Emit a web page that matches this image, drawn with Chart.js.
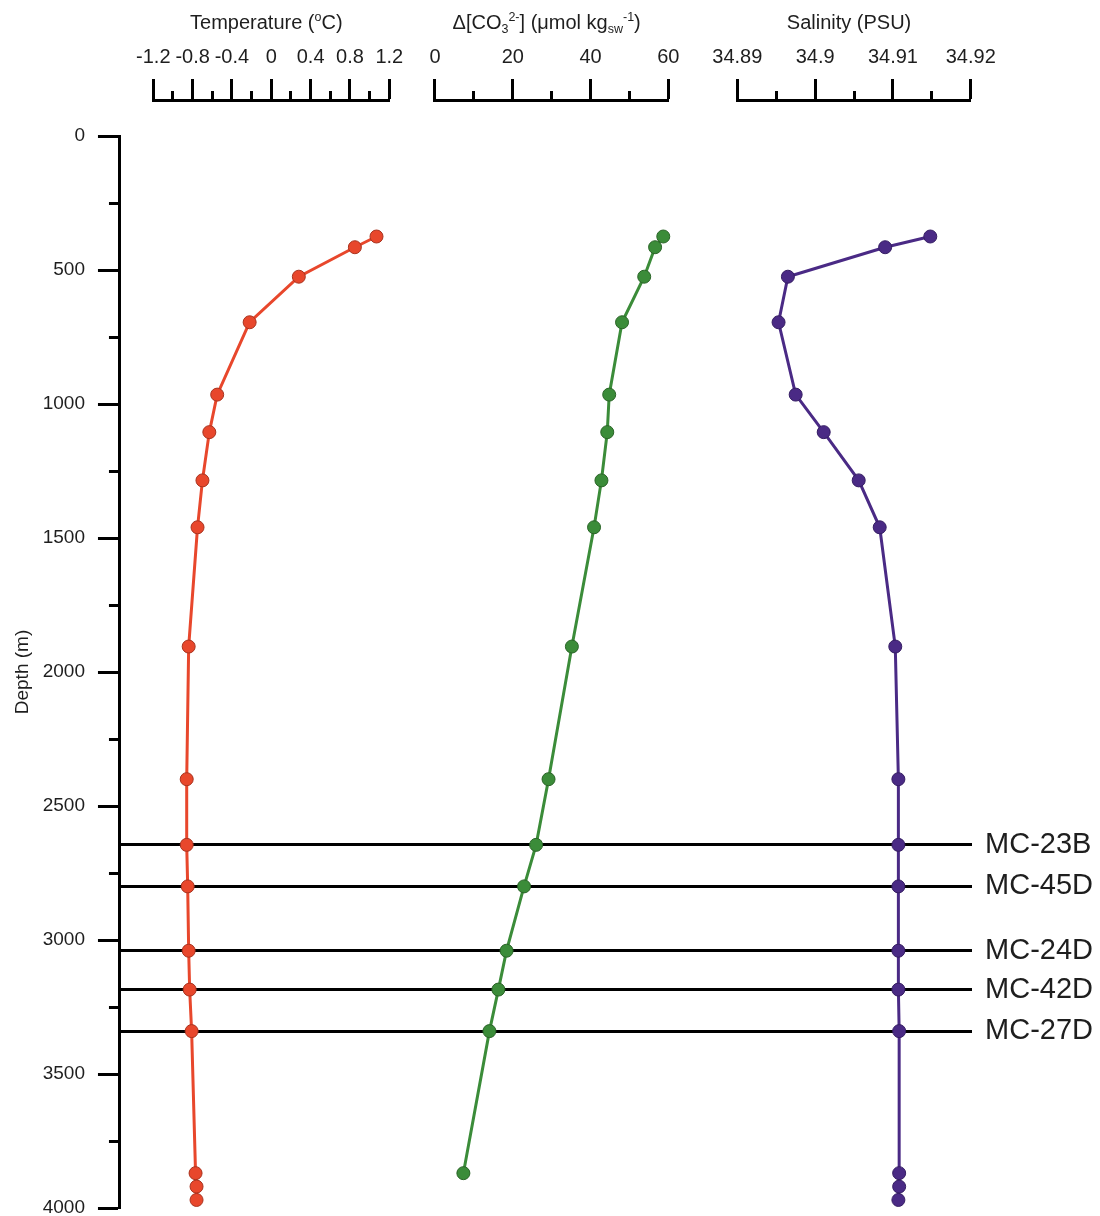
<!DOCTYPE html>
<html>
<head>
<meta charset="utf-8">
<script src="https://cdn.jsdelivr.net/npm/chart.js@4/dist/chart.umd.min.js"></script>
<style>
  html, body { margin: 0; padding: 0; background: #fff; }
  #wrap { width: 1100px; height: 1216px; }
</style>
</head>
<body>
<div id="wrap"><canvas id="profile" width="1100" height="1216"></canvas></div>
<script>
// Sample depths (m) shared by the three profiles
const depthValues = [375, 415, 525, 695, 965, 1105, 1285, 1460, 1905, 2400, 2645, 2800, 3040, 3185, 3340, 3870, 3920, 3970];

// Profile values, top to bottom
const temperature = [1.07, 0.85, 0.28, -0.22, -0.55, -0.63, -0.70, -0.75, -0.84, -0.86, -0.86, -0.85, -0.84, -0.83, -0.81, -0.77, -0.76, -0.76];
const carbonate = [58.7, 56.6, 53.8, 48.1, 44.8, 44.3, 42.8, 40.9, 35.2, 29.2, 26.0, 22.9, 18.4, 16.3, 14.0, 7.3];
const salinity = [34.9148, 34.9090, 34.8965, 34.8953, 34.8975, 34.9011, 34.9056, 34.9083, 34.9103, 34.9107, 34.9107, 34.9107, 34.9107, 34.9107, 34.9108, 34.9108, 34.9108, 34.9107];

// Core sites and their water depths (m)
const coreNames = ['MC-23B', 'MC-45D', 'MC-24D', 'MC-42D', 'MC-27D'];
const coreDepths = [2645, 2800, 3040, 3185, 3340];

// Tick values and labels (empty label = minor tick)
const depthTicks = [0, 250, 500, 750, 1000, 1250, 1500, 1750, 2000, 2250, 2500, 2750, 3000, 3250, 3500, 3750, 4000];
const depthTickLabels = ['0', '', '500', '', '1000', '', '1500', '', '2000', '', '2500', '', '3000', '', '3500', '', '4000'];
const tempTicks = [-1.2, -1.0, -0.8, -0.6, -0.4, -0.2, 0, 0.2, 0.4, 0.6, 0.8, 1.0, 1.2];
const tempTickLabels = ['-1.2', '', '-0.8', '', '-0.4', '', '0', '', '0.4', '', '0.8', '', '1.2'];
const co3Ticks = [0, 10, 20, 30, 40, 50, 60];
const co3TickLabels = ['0', '', '20', '', '40', '', '60'];
const salTicks = [34.89, 34.895, 34.90, 34.905, 34.91, 34.915, 34.92];
const salTickLabels = ['34.89', '', '34.9', '', '34.91', '', '34.92'];

const FONT = "'Liberation Sans', Arial, Helvetica, sans-serif";
const INK = '#1e1e1e';
const TOP_BAND = 100;   // height of the row holding the three property axes

const toPoints = (xs) => xs.map((v, i) => ({ x: v, y: depthValues[i] }));

// Top axis with a bracket of long (labelled) and short ticks
function topAxis(ticks, labels, weight, stackWeight) {
  return {
    type: 'linear',
    position: 'top',
    stack: 'props',
    stackWeight: stackWeight,
    weight: weight,
    min: ticks[0],
    max: ticks[ticks.length - 1],
    afterBuildTicks: (s) => { s.ticks = ticks.map(v => ({ value: v })); },
    afterFit: (s) => { s.height = TOP_BAND; },
    border: { display: true, color: '#000', width: 3 },
    grid: {
      display: true,
      drawOnChartArea: false,
      drawTicks: true,
      tickLength: 21,
      tickWidth: 3,
      tickColor: '#000',
      tickBorderDash: (ctx) => labels[ctx.index] ? [] : [0, 12, 40]
    },
    ticks: {
      autoSkip: false,
      maxRotation: 0,
      minRotation: 0,
      padding: 10,
      color: INK,
      font: { family: FONT, size: 20 },
      callback: (v, i) => labels[i]
    }
  };
}

// Empty slot in the top row between two bracketed axes
function gapAxis(weight, stackWeight) {
  return {
    type: 'linear', position: 'top', stack: 'props',
    stackWeight: stackWeight, weight: weight, min: 0, max: 1,
    border: { display: false },
    grid: { display: false, drawTicks: false },
    ticks: { display: false },
    afterFit: (s) => { s.height = TOP_BAND; }
  };
}

// Titles with sub/superscripts, drawn above each top axis
const titleParts = {
  temp: [['Temperature (', 'n'], ['o', 'sup'], ['C)', 'n']],
  co3: [['\u0394[CO', 'n'], ['3', 'sub'], ['2-', 'sup'], ['] (\u03bcmol kg', 'n'], ['sw', 'sub'], ['-1', 'sup'], [')', 'n']],
  sal: [['Salinity (PSU)', 'n']]
};

const richTitles = {
  id: 'richTitles',
  afterDraw(chart) {
    const ctx = chart.ctx;
    const size = 20;
    const small = 12.5;
    ctx.save();
    ctx.fillStyle = INK;
    ctx.textBaseline = 'alphabetic';
    ctx.textAlign = 'left';
    Object.keys(titleParts).forEach((id) => {
      const sc = chart.scales[id];
      const parts = titleParts[id];
      const cx = (sc.left + sc.right) / 2 - 5;
      const base = sc.top + 21.5 + size * 0.36;
      let total = 0;
      const widths = parts.map(([t, k]) => {
        ctx.font = (k === 'n' ? size : small) + 'px ' + FONT;
        const w = ctx.measureText(t).width;
        total += w;
        return w;
      });
      let x = cx - total / 2;
      parts.forEach(([t, k], i) => {
        ctx.font = (k === 'n' ? size : small) + 'px ' + FONT;
        let y = base;
        if (k === 'sub') y = base + 4;
        if (k === 'sup') y = base - 7.5;
        ctx.fillText(t, x, y);
        x += widths[i];
      });
    });
    ctx.restore();
  }
};

const lineSet = (label, values, axis, color, edge) => ({
  label: label,
  data: toPoints(values),
  xAxisID: axis,
  yAxisID: 'y',
  showLine: true,
  borderColor: color,
  borderWidth: 3,
  pointRadius: 6.5,
  pointHoverRadius: 6.5,
  pointBackgroundColor: color,
  pointBorderColor: edge,
  pointBorderWidth: 1,
  tension: 0,
  clip: false
});

new Chart(document.getElementById('profile'), {
  type: 'scatter',
  data: {
    datasets: [
      lineSet('Temperature', temperature, 'temp', '#e8472c', '#a8331f'),
      lineSet('\u0394[CO3 2-]', carbonate, 'co3', '#3b8c39', '#2a6427'),
      lineSet('Salinity', salinity, 'sal', '#4a2a85', '#351d63')
    ]
  },
  options: {
    responsive: false,
    animation: false,
    events: [],
    layout: { padding: { top: 0, left: 0, right: 7, bottom: 8 } },
    plugins: { legend: { display: false }, tooltip: { enabled: false } },
    scales: {
      y: {
        type: 'linear',
        position: 'left',
        reverse: true,
        min: 0,
        max: 4000,
        afterBuildTicks: (s) => { s.ticks = depthTicks.map(v => ({ value: v })); },
        border: { display: true, color: '#000', width: 3 },
        grid: {
          display: true,
          drawOnChartArea: false,
          tickLength: 35,
          tickWidth: 3,
          tickColor: '#000',
          tickBorderDash: (ctx) => depthTickLabels[ctx.index] ? [0, 13, 40] : [0, 24, 40]
        },
        ticks: {
          autoSkip: false,
          padding: 0,
          color: INK,
          font: { family: FONT, size: 19, lineHeight: 0.8 },
          callback: (v, i) => depthTickLabels[i]
        },
        title: {
          display: true,
          text: 'Depth (m)',
          color: INK,
          font: { family: FONT, size: 19, lineHeight: 1.2 },
          padding: { top: 11.6, bottom: 8.3 }
        }
      },
      cores: {
        type: 'linear',
        position: 'right',
        reverse: true,
        min: 0,
        max: 4000,
        afterBuildTicks: (s) => { s.ticks = coreDepths.map(v => ({ value: v })); },
        border: { display: false },
        grid: {
          display: true,
          drawOnChartArea: true,
          color: '#000',
          lineWidth: 3,
          tickLength: 13,
          tickColor: 'rgba(0,0,0,0)'
        },
        ticks: {
          autoSkip: false,
          padding: 0,
          color: INK,
          font: { family: FONT, size: 29, lineHeight: 0.5 },
          callback: (v, i) => coreNames[i]
        }
      },
      // keeps the axis brackets clear of the depth-zero line
      spacer: {
        type: 'linear',
        position: 'top',
        weight: 0,
        min: 0,
        max: 1,
        border: { display: false },
        grid: { display: false, drawTicks: false },
        ticks: { display: false },
        afterFit: (s) => { s.height = 36; }
      },
      gap0: gapAxis(7, 33.3),
      temp: topAxis(tempTicks, tempTickLabels, 6, 236),
      gap1: gapAxis(5, 45.7),
      co3: topAxis(co3Ticks, co3TickLabels, 4, 233.3),
      gap2: gapAxis(3, 69),
      sal: topAxis(salTicks, salTickLabels, 2, 233.4),
      gap3: gapAxis(1, 1.3)
    }
  },
  plugins: [richTitles]
});
</script>
</body>
</html>
